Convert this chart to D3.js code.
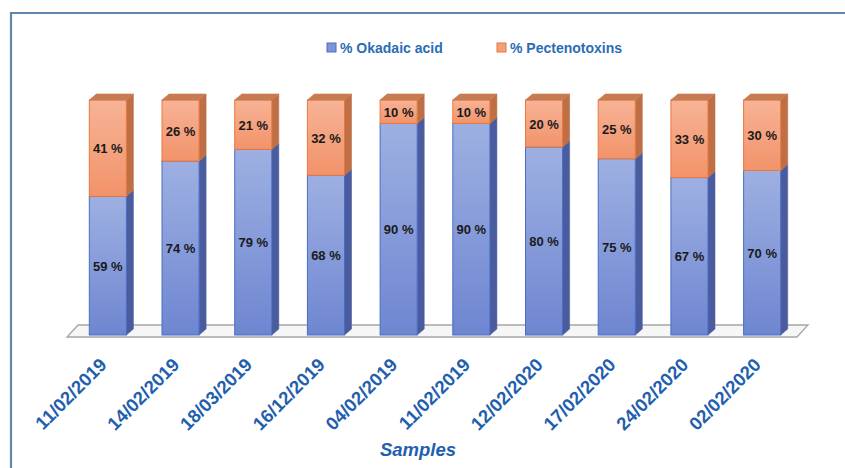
<!DOCTYPE html>
<html>
<head>
<meta charset="utf-8">
<script src="https://cdn.jsdelivr.net/npm/d3@7"></script>
<style>
  body { margin: 0; background: #fff; }
  svg { display: block; }
</style>
</head>
<body>
<div id="chart"></div>
<script>
// Data
const samples = ['11/02/2019', '14/02/2019', '18/03/2019', '16/12/2019', '04/02/2019',
                 '11/02/2019 ', '12/02/2020', '17/02/2020', '24/02/2020', '02/02/2020'];
const okadaic = [59, 74, 79, 68, 90, 90, 80, 75, 67, 70];
const pectenotoxins = [41, 26, 21, 32, 10, 10, 20, 25, 33, 30];
const seriesNames = ['% Okadaic acid', '% Pectenotoxins'];

const width = 845, height = 468;
const depthX = 7, depthY = 6;

const svg = d3.select('#chart')
    .append('svg')
    .attr('width', width)
    .attr('height', height);

const defs = svg.append('defs');
function vGrad(id, top, bottom) {
    const g = defs.append('linearGradient').attr('id', id)
        .attr('x1', 0).attr('y1', 0).attr('x2', 0).attr('y2', 1);
    g.append('stop').attr('offset', '0%').attr('stop-color', top);
    g.append('stop').attr('offset', '100%').attr('stop-color', bottom);
}
vGrad('blueFront', '#9eb0e2', '#6e86d1');
vGrad('orangeFront', '#f7b396', '#f2936a');

const colors = {
    blue: { front: 'url(#blueFront)', side: '#4b5c9e', top: '#8096d6', stroke: '#4a6cc7' },
    orange: { front: 'url(#orangeFront)', side: '#bf6f45', top: '#c67b50', stroke: '#e8783c' }
};

// Frame
svg.append('path')
    .attr('d', `M11,${height} L11,13 L${width},13`)
    .attr('fill', 'none')
    .attr('stroke', '#5f88aa')
    .attr('stroke-width', 2.2);

// Scales
const x = d3.scaleBand()
    .domain(samples)
    .range([71.5, 798.5])
    .paddingInner(0.49)
    .paddingOuter(0.245);

const y = d3.scaleLinear()
    .domain([0, 100])
    .range([335, 100]);

// Floor
svg.append('path')
    .attr('d', `M67,337 L797,337 L808,325 L78,325 Z`)
    .attr('fill', '#f6f6f6')
    .attr('stroke', '#a6a6a6')
    .attr('stroke-width', 1.3);

// Stacked data
const stackData = samples.map((s, i) => ({ sample: s, ok: okadaic[i], pt: pectenotoxins[i] }));
const stack = d3.stack().keys(['ok', 'pt'])(stackData);

const bars = svg.append('g');
stack.forEach((layer, li) => {
    const c = li === 0 ? colors.blue : colors.orange;
    const g = bars.append('g');
    layer.forEach(d => {
        const x0 = x(d.data.sample);
        const x1 = x0 + x.bandwidth();
        const yTop = y(d[1]);
        const yBot = y(d[0]);
        // side face
        g.append('path')
            .attr('d', `M${x1},${yBot} L${x1 + depthX},${yBot - depthY} L${x1 + depthX},${yTop - depthY} L${x1},${yTop} Z`)
            .attr('fill', c.side)
            .attr('stroke', c.side)
            .attr('stroke-width', 0.6);
        // front face
        g.append('rect')
            .attr('x', x0)
            .attr('y', yTop)
            .attr('width', x.bandwidth())
            .attr('height', yBot - yTop)
            .attr('fill', c.front)
            .attr('stroke', c.stroke)
            .attr('stroke-width', 1);
        // top cap only for the top segment
        if (li === stack.length - 1) {
            g.append('path')
                .attr('d', `M${x0},${yTop} L${x0 + depthX},${yTop - depthY} L${x1 + depthX},${yTop - depthY} L${x1},${yTop} Z`)
                .attr('fill', c.top)
                .attr('stroke', c.top)
                .attr('stroke-width', 0.6);
        }
    });
});

// Value labels
stack.forEach(layer => {
    svg.append('g').selectAll('text')
        .data(layer)
        .enter()
        .append('text')
        .attr('x', d => x(d.data.sample) + x.bandwidth() / 2)
        .attr('y', d => (y(d[0]) + y(d[1])) / 2 + 5)
        .attr('text-anchor', 'middle')
        .attr('font-family', 'Liberation Sans, Arial, sans-serif')
        .attr('font-weight', 'bold')
        .attr('font-size', 13)
        .attr('fill', '#1a1a1a')
        .text(d => `${d[1] - d[0]} %`);
});

// X axis labels (rotated)
const xAxis = svg.append('g')
    .call(d3.axisBottom(x).tickSize(0).tickFormat(d => d.trim()));
xAxis.select('.domain').remove();
xAxis.selectAll('.tick')
    .attr('transform', d => `translate(${x(d) + x.bandwidth() / 2},366)`);
xAxis.selectAll('.tick text')
    .attr('x', 0)
    .attr('y', 0)
    .attr('dy', 0)
    .attr('transform', 'rotate(-45)')
    .attr('text-anchor', 'end')
    .attr('font-family', 'Liberation Sans, Arial, sans-serif')
    .attr('font-weight', 'bold')
    .attr('font-size', 18.5)
    .attr('fill', '#1f5fae');

// Axis title
svg.append('text')
    .attr('x', 418)
    .attr('y', 456)
    .attr('text-anchor', 'middle')
    .attr('font-family', 'Liberation Sans, Arial, sans-serif')
    .attr('font-weight', 'bold')
    .attr('font-style', 'italic')
    .attr('font-size', 18.5)
    .attr('fill', '#1f5fae')
    .text('Samples');

// Legend
const legendX = [327, 497];
const legendFill = ['#7f93d6', '#f2a07a'];
const legendStroke = ['#4a6cc7', '#e8783c'];
const legend = svg.append('g');
seriesNames.forEach((name, i) => {
    legend.append('rect')
        .attr('x', legendX[i])
        .attr('y', 43)
        .attr('width', 9)
        .attr('height', 9)
        .attr('fill', legendFill[i])
        .attr('stroke', legendStroke[i])
        .attr('stroke-width', 1);
    legend.append('text')
        .attr('x', legendX[i] + 13)
        .attr('y', 53)
        .attr('font-family', 'Liberation Sans, Arial, sans-serif')
        .attr('font-weight', 'bold')
        .attr('font-size', 14)
        .attr('fill', '#2a6db5')
        .text(name);
});
</script>
</body>
</html>
